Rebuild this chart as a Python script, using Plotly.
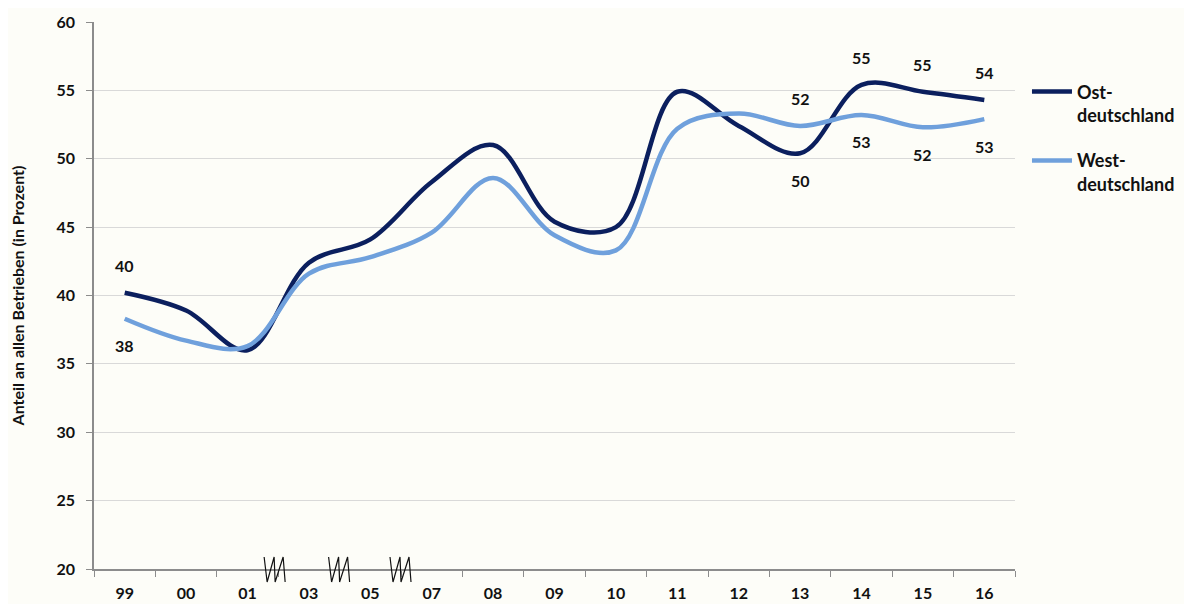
import plotly.graph_objects as go

years = ["99", "00", "01", "03", "05", "07", "08", "09", "10", "11", "12", "13", "14", "15", "16"]
ost = [40.2, 38.9, 36.0, 42.4, 44.1, 48.3, 51.0, 45.4, 45.0, 54.9, 52.4, 50.4, 55.4, 54.9, 54.3]
west = [38.3, 36.7, 36.3, 41.6, 42.8, 44.6, 48.6, 44.4, 43.3, 52.2, 53.3, 52.4, 53.2, 52.3, 52.9]

# which points carry a value label, and whether it sits above (+1) or below (-1)
ost_labels = {"99": 1, "13": -1, "14": 1, "15": 1, "16": 1}
west_labels = {"99": -1, "13": 1, "14": -1, "15": -1, "16": -1}

# axis breaks (category index) where survey years are skipped
breaks = [2.45, 3.5, 4.5]

FONT = "Lato, Calibri, sans-serif"
BG = "#fdfdf8"
INK = "#111"

fig = go.Figure()
fig.add_trace(go.Scatter(
    x=years, y=ost, mode="lines", name="Ost-<br>deutschland",
    line=dict(color="#0b1f5e", width=4.5, shape="spline", smoothing=1),
    legendgroup="ost",
))
fig.add_trace(go.Scatter(
    x=years, y=west, mode="lines", name="West-<br>deutschland",
    line=dict(color="#6fa0dc", width=4.5, shape="spline", smoothing=1),
    legendgroup="west",
))

for series, labels in ((ost, ost_labels), (west, west_labels)):
    for yr, side in labels.items():
        i = years.index(yr)
        v = series[i]
        fig.add_annotation(
            x=i, y=v, text=f"{round(v)}", showarrow=False,
            yshift=27 * side,
            font=dict(family=FONT, size=16, color=INK, weight="bold"),
        )

# small zigzag break marks sitting on the x axis
zigzag = "M-11,12 L-8,-13 L-1,12 L0,-13 L8,12 L10,-13"
for b in breaks:
    fig.add_shape(
        type="path", xref="paper", yref="paper",
        xsizemode="pixel", ysizemode="pixel",
        xanchor=(b + 0.5) / len(years), yanchor=0, path=zigzag,
        line=dict(color=INK, width=1.2),
    )

fig.update_layout(
    width=1184, height=596,
    margin=dict(l=86, r=174, t=14, b=35),
    paper_bgcolor=BG, plot_bgcolor=BG,
    font=dict(family=FONT, size=16, color=INK),
    showlegend=True,
    legend=dict(
        x=1.013, y=0.906, xanchor="left", yanchor="top",
        font=dict(family=FONT, size=18, color=INK, weight="bold"),
        valign="top", tracegroupgap=19, itemwidth=40,
        bgcolor="rgba(0,0,0,0)",
    ),
)
fig.update_xaxes(
    type="category", range=[-0.5, 14.5],
    showgrid=False, showline=True, linecolor="#8c8c8c", linewidth=1.5,
    ticks="outside", tickson="boundaries", ticklen=6, tickcolor="#8c8c8c",
    ticklabelstandoff=9, automargin=False,
    tickfont=dict(family=FONT, size=16, weight="bold", color=INK),
)
fig.update_yaxes(
    range=[20, 60], dtick=5,
    showgrid=True, gridcolor="#d9d9d9", gridwidth=1,
    showline=True, linecolor="#8c8c8c", linewidth=1.5,
    ticks="outside", ticklen=6, tickcolor="#8c8c8c",
    ticklabelstandoff=8, automargin=False,
    tickfont=dict(family=FONT, size=16, weight="bold", color=INK),
    title=dict(text="Anteil an allen Betrieben (in Prozent)", standoff=28,
               font=dict(family=FONT, size=16, weight="bold", color=INK)),
    zeroline=False,
)

fig.write_html("out.html")
